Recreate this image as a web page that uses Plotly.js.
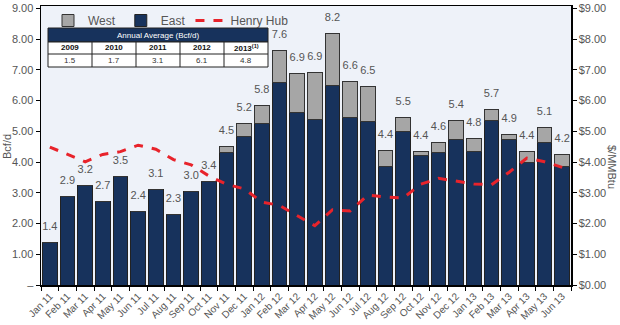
<!DOCTYPE html>
<html><head><meta charset="utf-8">
<script src="https://cdn.plot.ly/plotly-3.0.1.min.js"></script>
<style>html,body{margin:0;padding:0;background:#fff}#chart{width:620px;height:325px}</style>
</head><body><div id="chart"></div>
<script>
const months = ["Jan 11","Feb 11","Mar 11","Apr 11","May 11","Jun 11","Jul 11","Aug 11","Sep 11","Oct 11","Nov 11","Dec 11",
"Jan 12","Feb 12","Mar 12","Apr 12","May 12","Jun 12","Jul 12","Aug 12","Sep 12","Oct 12","Nov 12","Dec 12",
"Jan 13","Feb 13","Mar 13","Apr 13","May 13","Jun 13"];
const east = [1.37,2.89,3.25,2.72,3.53,2.39,3.11,2.28,3.04,3.38,4.30,4.82,5.27,6.60,5.63,5.39,6.50,5.45,5.31,3.85,4.98,4.21,4.30,4.75,4.35,5.34,4.72,3.98,4.65,3.87];
const west = [0,0,0,0,0,0,0,0,0,0,0.21,0.42,0.58,1.04,1.25,1.54,1.69,1.18,1.14,0.53,0.48,0.15,0.33,0.61,0.41,0.37,0.17,0.38,0.46,0.38];
const totalLabels = ["1.4","2.9","3.2","2.7","3.5","2.4","3.1","2.3","3.0","3.4","4.5","5.2","5.8","7.6","6.9","6.9","8.2","6.6","6.5","4.4","5.5","4.4","4.6","5.4","4.8","5.7","4.9","4.4","5.1","4.2"];
const henryHub = [4.49,4.25,4.01,4.25,4.34,4.55,4.42,4.08,3.91,3.55,3.28,3.13,2.70,2.59,2.27,1.93,2.45,2.41,2.93,2.86,2.83,3.28,3.47,3.37,3.29,3.26,3.67,4.13,4.01,3.83];
const tableTitle = "Annual Average (Bcf/d)";
const tableYears = ["2009","2010","2011","2012","2013<sup>(1)</sup>"];
const tableValues = ["1.5","1.7","3.1","6.1","4.8"];
const tickValues = [0,1,2,3,4,5,6,7,8,9];
const leftTickText = ["–","1.00","2.00","3.00","4.00","5.00","6.00","7.00","8.00","9.00"];
const rightTickText = ["$0.00","$1.00","$2.00","$3.00","$4.00","$5.00","$6.00","$7.00","$8.00","$9.00"];

const W=620,H=325,L=41,R=49,T=6,B=40;
const PW=W-L-R, PH=H-T-B;
const px = x => (x-L)/PW;
const py = y => (H-B-y)/PH;

const navy="#17325C", gray="#A6A6A6", txt="#555555";
const totals = east.map((e,i)=>e+west[i]);

const data = [
 {type:'bar', name:'East', x:months, y:east, legendrank:2, marker:{color:navy, line:{color:'#222', width:1}}, hoverinfo:'skip'},
 {type:'bar', name:'West', x:months, y:west, legendrank:1, marker:{color:gray, line:{color:'#333', width:1}}, hoverinfo:'skip'},
 {type:'scatter', name:'Henry Hub', x:months, y:henryHub, yaxis:'y2', mode:'lines', legendrank:3,
  line:{color:'#E8232B', width:3, dash:'dash'}},
 {type:'scatter', x:months, y:totals, mode:'markers+text', text:totalLabels, textposition:'top center',
  marker:{size:14, color:'rgba(0,0,0,0)'}, textfont:{size:11, color:txt, family:'Liberation Sans, Arial'},
  showlegend:false, hoverinfo:'skip'}
];

const shapes=[], annotations=[];
const tx0=48, tx1=268, ty0=28, ty1=42, ty2=54, ty3=67;
const cw=(tx1-tx0)/tableYears.length;
shapes.push({type:'rect',xref:'paper',yref:'paper',x0:px(tx0),x1:px(tx1),y0:py(ty1),y1:py(ty0),fillcolor:navy,line:{color:'#222',width:1},layer:'above'});
shapes.push({type:'rect',xref:'paper',yref:'paper',x0:px(tx0),x1:px(tx1),y0:py(ty3),y1:py(ty1),fillcolor:'#ffffff',line:{color:'#222',width:1},layer:'above'});
shapes.push({type:'line',xref:'paper',yref:'paper',x0:px(tx0),x1:px(tx1),y0:py(ty2),y1:py(ty2),line:{color:'#222',width:1},layer:'above'});
for(let i=1;i<tableYears.length;i++){
  shapes.push({type:'line',xref:'paper',yref:'paper',x0:px(tx0+i*cw),x1:px(tx0+i*cw),y0:py(ty3),y1:py(ty1),line:{color:'#222',width:1},layer:'above'});
}
annotations.push({xref:'paper',yref:'paper',x:px((tx0+tx1)/2),y:py((ty0+ty1)/2),text:tableTitle,showarrow:false,
  font:{size:8,color:'#ffffff',family:'Liberation Sans, Arial'},xanchor:'center',yanchor:'middle'});
tableYears.forEach((t,i)=>{
  annotations.push({xref:'paper',yref:'paper',x:px(tx0+(i+0.5)*cw),y:py((ty1+ty2)/2),text:'<b>'+t+'</b>',showarrow:false,
   font:{size:8,color:'#111',family:'Liberation Sans, Arial'},xanchor:'center',yanchor:'middle'});
  annotations.push({xref:'paper',yref:'paper',x:px(tx0+(i+0.5)*cw),y:py((ty2+ty3)/2),text:tableValues[i],showarrow:false,
   font:{size:8,color:'#333',family:'Liberation Sans, Arial'},xanchor:'center',yanchor:'middle'});
});
annotations.push({xref:'paper',yref:'paper',x:px(7),y:py(147),text:'Bcf/d',textangle:-90,showarrow:false,
  font:{size:11,color:txt,family:'Liberation Sans, Arial'},xanchor:'center',yanchor:'middle'});
annotations.push({xref:'paper',yref:'paper',x:px(612),y:py(167),text:'$/MMBtu',textangle:90,showarrow:false,
  font:{size:11,color:txt,family:'Liberation Sans, Arial'},xanchor:'center',yanchor:'middle'});

const layout={
 width:W,height:H,margin:{l:L,r:R,t:T,b:B},
 paper_bgcolor:'#ffffff',plot_bgcolor:'#EEF2F9',
 font:{family:'Liberation Sans, Arial',color:txt,size:11},
 barmode:'stack',bargap:0.16,showlegend:true,
 legend:{orientation:'h',x:px(48),y:py(6),xanchor:'left',yanchor:'top',bgcolor:'rgba(0,0,0,0)',
   font:{size:12,color:txt},traceorder:'normal'},
 xaxis:{type:'category',range:[-0.5,29.5],tickangle:-45,tickfont:{size:10,color:txt},
   tickson:'boundaries',ticks:'outside',ticklen:4,tickcolor:'#000',showline:true,linecolor:'#000',linewidth:1.5,
   mirror:true,showgrid:false,zeroline:false},
 yaxis:{range:[0,9.08],tickvals:tickValues,ticktext:leftTickText,ticks:'outside',ticklen:4,tickcolor:'#000',
   showline:true,linecolor:'#000',linewidth:1.5,showgrid:false,zeroline:false,tickfont:{size:11,color:txt}},
 yaxis2:{range:[0,9.08],overlaying:'y',side:'right',tickvals:tickValues,ticktext:rightTickText,
   ticks:'outside',ticklen:4,tickcolor:'#000',showline:true,linecolor:'#000',linewidth:1.5,showgrid:false,zeroline:false,
   tickfont:{size:11,color:txt}},
 shapes:shapes,annotations:annotations
};
Plotly.newPlot('chart',data,layout,{displayModeBar:false,staticPlot:true});
</script></body></html>
